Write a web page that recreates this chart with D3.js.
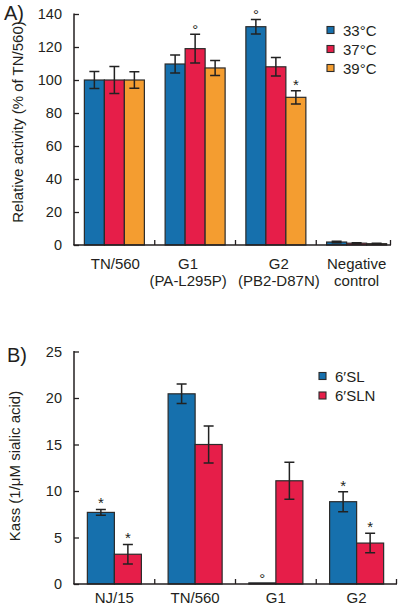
<!DOCTYPE html>
<html><head><meta charset="utf-8">
<script src="https://cdn.jsdelivr.net/npm/d3@7"></script>
<style>
html,body{margin:0;padding:0;background:#fff;}
svg{display:block;font-family:"Liberation Sans",Arial,sans-serif;}
</style></head>
<body><svg id="c" width="400" height="609"></svg>
<script>
// ---------- Panel A data ----------
const categoriesA = ["TN/560", "G1", "G2", "Negative"];
const subLabelsA = ["", "(PA-L295P)", "(PB2-D87N)", "control"];
const seriesA = ["33°C", "37°C", "39°C"];
const values33 = [100, 109.7, 132.3, 1.8];
const values37 = [100, 119.0, 108.0, 1.1];
const values39 = [100, 107.3, 89.5, 0.8];
const errors33 = [5.2, 5.5, 4.4, 0.5];
const errors37 = [8.2, 8.7, 5.6, 0.3];
const errors39 = [5.0, 4.5, 4.0, 0.2];
const marks33 = ["", "", "°", ""];
const marks37 = ["", "°", "", ""];
const marks39 = ["", "", "*", ""];
const ticksA = [0, 20, 40, 60, 80, 100, 120, 140];

// ---------- Panel B data ----------
const categoriesB = ["NJ/15", "TN/560", "G1", "G2"];
const seriesB = ["6′SL", "6′SLN"];
const valuesSL = [7.7, 20.45, 0.12, 8.85];
const valuesSLN = [3.2, 15.0, 11.1, 4.4];
const errorsSL = [0.32, 1.05, 0, 1.07];
const errorsSLN = [1.05, 2.0, 2.0, 1.05];
const marksSL = ["*", "", "°", "*"];
const marksSLN = ["*", "", "", "*"];
const ticksB = [0, 5, 10, 15, 20, 25];

const colors = ["#1670ad", "#e61e49", "#f49d30"];
const ink = "#231f20";

const svg = d3.select("#c");

function panel(o) {
  const g = svg.append("g");
  const y = d3.scaleLinear().domain([0, o.ymax]).range([o.y0, o.y1]);
  const x = d3.scaleBand().domain(o.categories).range([74, 397])
    .paddingInner(o.pad).paddingOuter(o.pad / 2);
  const xi = d3.scaleBand().domain(o.series).range([0, x.bandwidth()]);

  // y axis
  const ya = g.append("g").attr("transform", "translate(74,0)")
    .call(d3.axisLeft(y).tickValues(o.ticks).tickSizeInner(-5).tickSizeOuter(0).tickPadding(12));
  ya.select(".domain").attr("stroke", ink).attr("stroke-width", 1.5)
    .attr("d", `M0,${o.y0}V${o.y1 - 0.5}`);
  ya.selectAll(".tick line").attr("stroke", ink).attr("stroke-width", 1.3);
  ya.selectAll(".tick text").attr("fill", ink).style("font-size", "14.5px")
    .style("font-family", "'Liberation Sans',Arial,sans-serif");

  // bars
  o.series.forEach((s, si) => {
    const vals = o.values[si], errs = o.errors[si], marks = o.marks[si];
    o.categories.forEach((c, ci) => {
      const bx = x(c) + xi(s), bw = xi.bandwidth(), v = vals[ci], e = errs[ci];
      g.append("rect").attr("x", bx).attr("y", y(v)).attr("width", bw)
        .attr("height", Math.max(0, o.y0 - y(v)))
        .attr("fill", colors[si]).attr("stroke", "#2b2b2b").attr("stroke-width", 1.2);
      const cx = bx + bw / 2;
      if (e > 0) {
        g.append("path")
          .attr("d", `M${cx},${y(v + e)}V${y(v - e)}M${cx - 5},${y(v + e)}H${cx + 5}M${cx - 5},${y(v - e)}H${cx + 5}`)
          .attr("stroke", "#222").attr("stroke-width", 1.5).attr("fill", "none");
      }
      const m = marks[ci];
      if (m) {
        const top = y(v + e);
        g.append("text").attr("x", cx).attr("y", m === "*" ? top - 1 : top + 1)
          .attr("text-anchor", "middle").attr("fill", ink)
          .style("font-size", "15px").text(m);
      }
    });
  });
  // x axis
  g.append("path").attr("d", `M73.25,${o.y0}H${o.xEnd}`).attr("stroke", ink).attr("stroke-width", 1.5);
  const bounds = o.categories.slice(1).map(c => x(c) - x.step() * o.pad / 2);
  bounds.push(o.xEnd - 0.5);
  g.selectAll(null).data(bounds).enter().append("line")
    .attr("x1", d => d).attr("x2", d => d).attr("y1", o.y0).attr("y2", o.y0 - 5)
    .attr("stroke", ink).attr("stroke-width", 1.3);
  // category labels
  o.categories.forEach((c, ci) => {
    const cx = x(c) + x.bandwidth() / 2 + (o.labelShift ? o.labelShift[ci] : 0);
    g.append("text").attr("x", cx).attr("y", o.labelY).attr("text-anchor", "middle")
      .attr("fill", ink).style("font-size", "15px").text(c);
    if (o.sub && o.sub[ci]) {
      g.append("text").attr("x", cx).attr("y", o.labelY + 17).attr("text-anchor", "middle")
        .attr("fill", ink).style("font-size", "15px").text(o.sub[ci]);
    }
  });
  // y title
  g.append("text").attr("transform", `translate(${o.titleX},${o.titleY}) rotate(-90)`)
    .attr("text-anchor", "middle").attr("fill", ink).style("font-size", "15px").text(o.title);
  // panel letter
  g.append("text").attr("x", o.letterX).attr("y", o.letterY).attr("fill", ink)
    .style("font-size", "20px").text(o.letter);
  // legend
  o.series.forEach((s, si) => {
    const ly = o.legY + si * o.legStep;
    g.append("rect").attr("x", o.legX).attr("y", ly - 3.5).attr("width", 7).attr("height", 7)
      .attr("fill", colors[si]).attr("stroke", "#2b2b2b").attr("stroke-width", 1.1);
    g.append("text").attr("x", o.legX + 16).attr("y", ly + 5.5).attr("fill", ink)
      .style("font-size", "15px").text(s);
  });
}

panel({
  categories: categoriesA, sub: subLabelsA, series: seriesA,
  values: [values33, values37, values39], errors: [errors33, errors37, errors39],
  marks: [marks33, marks37, marks39], ticks: ticksA, ymax: 140,
  y0: 245, y1: 14, pad: 0.257, xEnd: 391, labelY: 269, labelShift: [1, -7, 3, 0],
  title: "Relative activity (% of TN/560)", titleX: 23, titleY: 122,
  letter: "A)", letterX: 4, letterY: 20,
  legX: 327, legY: 30, legStep: 19
});

panel({
  categories: categoriesB, sub: null, series: seriesB,
  values: [valuesSL, valuesSLN], errors: [errorsSL, errorsSLN],
  marks: [marksSL, marksSLN], ticks: ticksB, ymax: 25,
  y0: 584, y1: 351.5, pad: 0.331, xEnd: 397, labelY: 603,
  title: "Kass (1/μM sialic acid)", titleX: 20, titleY: 466,
  letter: "B)", letterX: 7, letterY: 362,
  legX: 319, legY: 376, legStep: 19.5
});
</script></body></html>
